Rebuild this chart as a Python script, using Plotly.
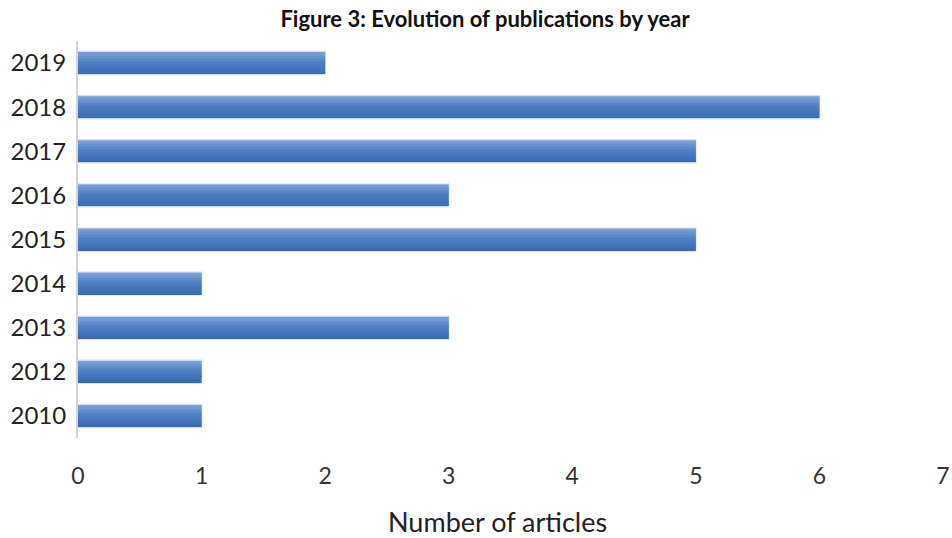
import plotly.graph_objects as go

# Publications per year
years = ["2010", "2012", "2013", "2014", "2015", "2016", "2017", "2018", "2019"]
articles = [1, 1, 3, 1, 5, 3, 5, 6, 2]
x_ticks = [0, 1, 2, 3, 4, 5, 6, 7]

FONT = "Lato, 'Open Sans', sans-serif"

# Vertical shading of each bar: darker at the bottom, lighter at the top
dark = (58, 106, 178)
mid = (80, 128, 196)
light = (122, 159, 213)


def blend(a, b, t):
    return tuple(round(a[k] + (b[k] - a[k]) * t) for k in range(3))


bar_w = 0.48
n_strips = 14
strip = bar_w / n_strips

fig = go.Figure()

# soft pale halo around each bar
fig.add_trace(go.Bar(
    x=articles,
    y=years,
    orientation="h",
    width=bar_w + 0.04,
    marker=dict(color="rgba(170,196,232,0.7)",
                line=dict(width=1.5, color="rgba(190,210,238,0.6)")),
    showlegend=False,
    hoverinfo="skip",
))

for i in range(n_strips):
    t = i / (n_strips - 1)
    if t < 0.6:
        c = blend(dark, mid, t / 0.6)
    else:
        c = blend(mid, light, (t - 0.6) / 0.4)
    fig.add_trace(go.Bar(
        x=articles,
        y=years,
        orientation="h",
        width=strip * 1.15,
        offset=-bar_w / 2 + i * strip,
        marker=dict(color="rgb(%d,%d,%d)" % c, line=dict(width=0)),
        showlegend=False,
        hoverinfo="x+y",
    ))

fig.update_layout(
    width=952,
    height=538,
    barmode="overlay",
    plot_bgcolor="white",
    paper_bgcolor="white",
    margin=dict(l=78, r=9, t=41, b=100),
    title=dict(
        text="<b>Figure 3: Evolution of publications by year</b>",
        x=485 / 952,
        xanchor="center",
        y=1 - 19 / 538,
        yanchor="middle",
        font=dict(family=FONT, size=22, color="#111111"),
    ),
    xaxis=dict(
        range=[0, 7],
        tickvals=x_ticks,
        showgrid=False,
        zeroline=False,
        showline=False,
        ticks="",
        automargin=False,
        ticklabelstandoff=22,
        tickfont=dict(family=FONT, size=23, color="#333333"),
    ),
    yaxis=dict(
        type="category",
        categoryorder="array",
        categoryarray=years,
        showgrid=False,
        zeroline=False,
        showline=True,
        linecolor="#d4d4d4",
        linewidth=2,
        ticks="",
        automargin=False,
        ticklabelstandoff=5,
        tickfont=dict(family=FONT, size=24, color="#222222"),
    ),
    annotations=[dict(
        text="Number of articles",
        xref="paper", yref="paper",
        x=(497 - 78) / 865, y=-(521 - 438) / 397,
        xanchor="center", yanchor="middle",
        showarrow=False,
        font=dict(family=FONT, size=27, color="#222222"),
    )],
)

fig.write_html("out.html")
